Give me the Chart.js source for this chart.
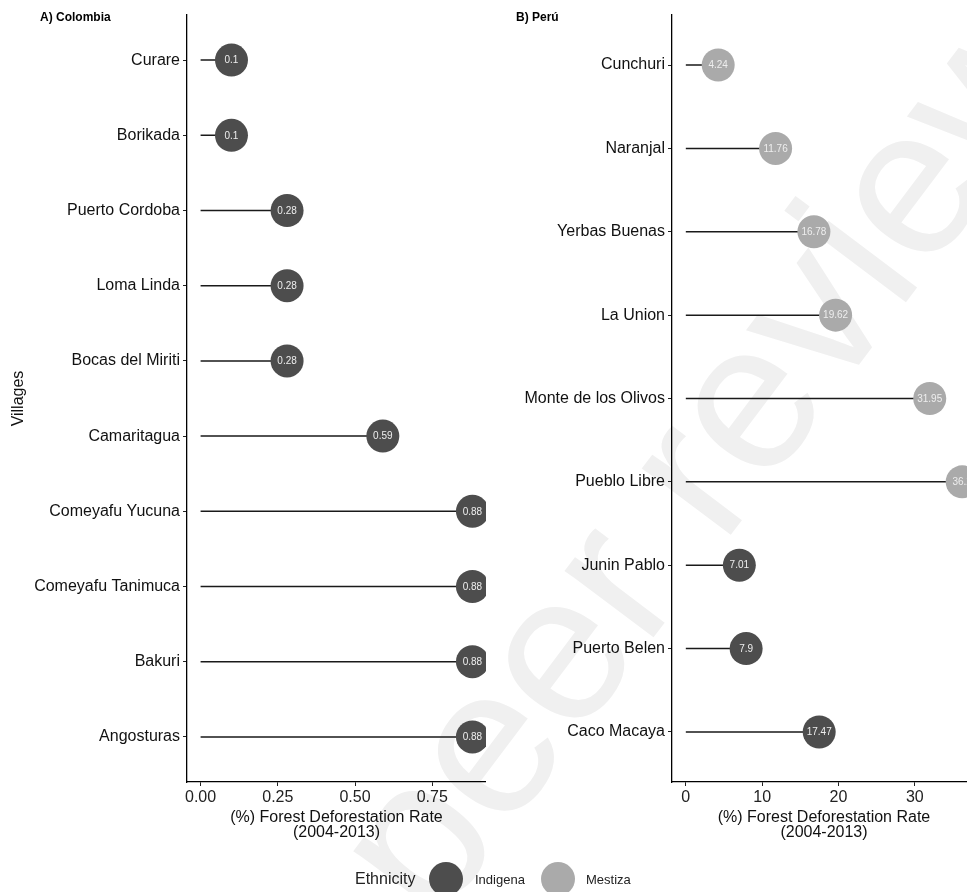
<!DOCTYPE html>
<html>
<head>
<meta charset="utf-8">
<script src="https://cdn.jsdelivr.net/npm/chart.js@4/dist/chart.umd.min.js"></script>
<style>
  html, body { margin:0; padding:0; width:967px; height:892px; overflow:hidden; background:#fff; }
  body { position:relative; font-family:"Liberation Sans", Arial, sans-serif; }
  .abs { position:absolute; }
  #wm { left:703px; top:452px; transform:translate(-50%,-50%) rotate(-53deg); font-size:210px; line-height:1; color:#f0f0f0; white-space:nowrap; z-index:0; }
  canvas { position:absolute; top:0; z-index:1; }
  .ttl { font-weight:bold; font-size:12px; color:#000; z-index:2; line-height:1; }
  .leg { z-index:2; color:#222; line-height:1; }
  .dot { width:34px; height:34px; border-radius:50%; z-index:2; }
</style>
</head>
<body>
<div id="wm" class="abs">peer review</div>
<canvas id="cA" width="486" height="892" style="left:0px"></canvas>
<canvas id="cB" width="479" height="892" style="left:497px"></canvas>
<div class="abs ttl" style="left:40px;top:11px">A) Colombia</div>
<div class="abs ttl" style="left:516px;top:11px">B) Perú</div>
<div class="abs leg" style="left:355px;top:871px;font-size:16px">Ethnicity</div>
<div class="abs dot" style="left:429px;top:862px;background:#4d4d4d"></div>
<div class="abs leg" style="left:475px;top:873px;font-size:13px">Indigena</div>
<div class="abs dot" style="left:541px;top:862px;background:#aaaaaa"></div>
<div class="abs leg" style="left:586px;top:873px;font-size:13px">Mestiza</div>
<script>
// ---- Data ----
const villagesA = ["Curare","Borikada","Puerto Cordoba","Loma Linda","Bocas del Miriti","Camaritagua","Comeyafu Yucuna","Comeyafu Tanimuca","Bakuri","Angosturas"];
const ratesA = [0.1, 0.1, 0.28, 0.28, 0.28, 0.59, 0.88, 0.88, 0.88, 0.88];
const ethnicityA = ["Indigena","Indigena","Indigena","Indigena","Indigena","Indigena","Indigena","Indigena","Indigena","Indigena"];
const xTicksA = [0, 0.25, 0.5, 0.75];

const villagesB = ["Cunchuri","Naranjal","Yerbas Buenas","La Union","Monte de los Olivos","Pueblo Libre","Junin Pablo","Puerto Belen","Caco Macaya"];
const ratesB = [4.24, 11.76, 16.78, 19.62, 31.95, 36.2, 7.01, 7.9, 17.47];
const ethnicityB = ["Mestiza","Mestiza","Mestiza","Mestiza","Mestiza","Mestiza","Indigena","Indigena","Indigena"];
const xTicksB = [0, 10, 20, 30];

const ethColors = { Indigena: "#4d4d4d", Mestiza: "#aaaaaa" };
const xTitle = ["(%) Forest Deforestation Rate", "(2004-2013)"];

Chart.defaults.font.family = '"Liberation Sans", Arial, sans-serif';
Chart.defaults.color = "#222";

const labelPlugin = {
  id: "pointLabels",
  afterDatasetsDraw(chart) {
    const ctx = chart.ctx;
    const meta = chart.getDatasetMeta(0);
    const vals = chart.data.datasets[0].data;
    ctx.save();
    ctx.font = '10px "Liberation Sans", Arial, sans-serif';
    ctx.fillStyle = "#eeeeee";
    ctx.textAlign = "center";
    ctx.textBaseline = "middle";
    meta.data.forEach((el, i) => {
      ctx.fillText(String(vals[i].x), el.x, el.y + 0.5);
    });
    ctx.restore();
  }
};

function makeChart(id, villages, rates, eth, xTicks, yAxisWidth, showYTitle, fmt) {
  const pts = rates.map((v, i) => ({ x: v, y: i }));
  const segs = [];
  rates.forEach((v, i) => { segs.push({ x: 0, y: i }, { x: v, y: i }, { x: null, y: null }); });
  const maxV = Math.max(...rates);
  return new Chart(document.getElementById(id), {
    type: "scatter",
    data: {
      datasets: [
        { data: pts, order: 0, pointRadius: 16.5, pointHoverRadius: 16.5, pointBorderWidth: 0,
          pointBackgroundColor: eth.map(e => ethColors[e]), borderColor: "rgba(0,0,0,0)", clip: false },
        { data: segs, order: 1, showLine: true, spanGaps: false, borderColor: "#1a1a1a", borderWidth: 1.5,
          pointRadius: 0, pointHoverRadius: 0 }
      ]
    },
    options: {
      responsive: false, animation: false, devicePixelRatio: 1,
      layout: { autoPadding: false, padding: { top: 15, bottom: 50, left: 0, right: 0 } },
      plugins: { legend: { display: false }, tooltip: { enabled: false } },
      events: [],
      scales: {
        x: {
          type: "linear", min: -0.05 * maxV, max: 1.05 * maxV,
          afterBuildTicks: s => { s.ticks = xTicks.map(v => ({ value: v })); },
          afterFit: s => { s.height = 60; },
          grid: { drawOnChartArea: false, drawTicks: true, tickLength: 4, tickColor: "#222", tickWidth: 1 },
          border: { display: true, color: "#000", width: 1.3 },
          ticks: { font: { size: 16 }, color: "#222", padding: 1.5, callback: v => fmt(v), autoSkip: false, maxRotation: 0 },
          title: { display: true, text: xTitle, font: { size: 16, lineHeight: 0.95 }, color: "#111", padding: { top: 0, bottom: 2 } }
        },
        y: {
          type: "linear", reverse: true, min: -0.6, max: villages.length - 1 + 0.6,
          afterBuildTicks: s => { s.ticks = villages.map((_, i) => ({ value: i })); },
          afterFit: s => { s.width = yAxisWidth; },
          grid: { drawOnChartArea: false, drawTicks: true, tickLength: 4, tickColor: "#222", tickWidth: 1 },
          border: { display: true, color: "#000", width: 1.3 },
          ticks: { font: { size: 16 }, color: "#111", padding: 3, autoSkip: false, callback: v => villages[v] },
          title: { display: showYTitle, text: "Villages", font: { size: 16 }, color: "#111", padding: { top: 9.4, bottom: 0 } }
        }
      }
    },
    plugins: [labelPlugin]
  });
}

makeChart("cA", villagesA, ratesA, ethnicityA, xTicksA, 187, true, v => v.toFixed(2));
makeChart("cB", villagesB, ratesB, ethnicityB, xTicksB, 175, false, v => String(v));
</script>
</body>
</html>
